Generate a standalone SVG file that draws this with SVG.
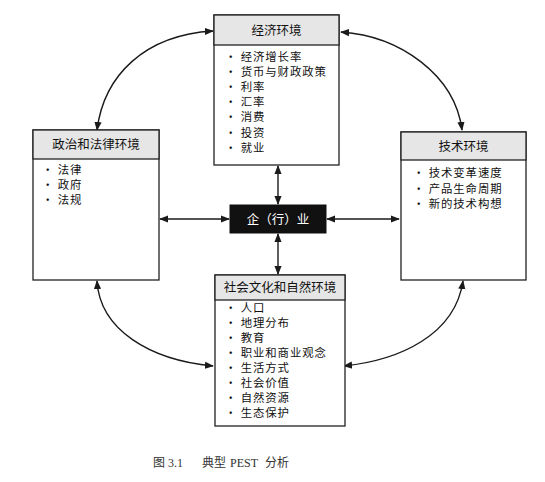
<svg xmlns="http://www.w3.org/2000/svg" width="545" height="482" viewBox="0 0 545 482">
<defs>
<marker id="ah" viewBox="0 0 10 10" refX="9" refY="5" markerWidth="9" markerHeight="9" markerUnits="userSpaceOnUse" orient="auto-start-reverse">
<path d="M0,1 L10,5 L0,9 Z" fill="#1a1a1a"/>
</marker>
<style>
.box{fill:#fff;stroke:#222;stroke-width:1.3}
.hdr{fill:#e6e6e6;stroke:#222;stroke-width:1.3}
.t{font-family:"Noto Sans CJK SC","Liberation Serif",serif;font-size:11.4px;letter-spacing:0.9px;fill:#111}
.h{font-family:"Noto Sans CJK SC","Liberation Serif",serif;font-size:12.5px;fill:#111;text-anchor:middle}
.c{fill:none;stroke:#1a1a1a;stroke-width:1.4;marker-start:url(#ah);marker-end:url(#ah)}
.cap{font-family:"Liberation Serif","Noto Sans CJK SC",serif;font-size:12px;fill:#333}
</style>
</defs>
<rect width="545" height="482" fill="#fff"/>
<g id="connectors">
<path class="c" d="M97,130 C104,75 145,35 213,31"/>
<path class="c" d="M341,32 C400,36 455,75 462,130"/>
<path class="c" d="M97,281 C100,330 150,360 213,366"/>
<path class="c" d="M463,281 C455,335 400,360 344,366"/>
<path class="c" d="M278,166 L278,204"/>
<path class="c" d="M278,234 L278,274"/>
<path class="c" d="M160,219 L229,219"/>
<path class="c" d="M327,219 L399,219"/>
</g>
<g id="economy">
<rect class="box" x="214" y="15" width="125" height="150"/>
<rect class="hdr" x="214" y="15" width="125" height="30"/>
<text class="h" x="276.5" y="35">经济环境</text>
<text class="t" x="225" y="61">· 经济增长率<tspan x="225" dy="15">· 货币与财政政策</tspan><tspan x="225" dy="15">· 利率</tspan><tspan x="225" dy="15">· 汇率</tspan><tspan x="225" dy="15">· 消费</tspan><tspan x="225" dy="15.5">· 投资</tspan><tspan x="225" dy="15">· 就业</tspan></text>
</g>
<g id="political">
<rect class="box" x="33" y="130" width="126" height="150"/>
<rect class="hdr" x="33" y="130" width="126" height="29"/>
<text class="h" x="96" y="149">政治和法律环境</text>
<text class="t" x="42" y="174">· 法律<tspan x="42" dy="15">· 政府</tspan><tspan x="42" dy="15">· 法规</tspan></text>
</g>
<g id="technology">
<rect class="box" x="401" y="132" width="125" height="148"/>
<rect class="hdr" x="401" y="132" width="125" height="28"/>
<text class="h" x="463.5" y="151">技术环境</text>
<text class="t" x="413" y="177">· 技术变革速度<tspan x="413" dy="15.5">· 产品生命周期</tspan><tspan x="413" dy="15.5">· 新的技术构想</tspan></text>
</g>
<g id="enterprise">
<rect x="230" y="205" width="96" height="28" fill="#111" stroke="#111"/>
<text x="278" y="223.5" text-anchor="middle" style="font-family:'Noto Sans CJK SC','Liberation Serif',serif;font-size:12.5px;fill:#fff">企（行）业</text>
</g>
<g id="social">
<rect class="box" x="215" y="275" width="130" height="151"/>
<rect class="hdr" x="215" y="275" width="130" height="25"/>
<text class="h" x="280" y="292">社会文化和自然环境</text>
<text class="t" x="225" y="312">· 人口<tspan x="225" dy="15">· 地理分布</tspan><tspan x="225" dy="15">· 教育</tspan><tspan x="225" dy="15">· 职业和商业观念</tspan><tspan x="225" dy="15">· 生活方式</tspan><tspan x="225" dy="15">· 社会价值</tspan><tspan x="225" dy="15">· 自然资源</tspan><tspan x="225" dy="15">· 生态保护</tspan></text>
</g>
<text class="cap" x="153" y="467">图<tspan x="168">3.1</tspan><tspan x="202">典型</tspan><tspan x="230">PEST</tspan><tspan x="265">分析</tspan></text>
</svg>
